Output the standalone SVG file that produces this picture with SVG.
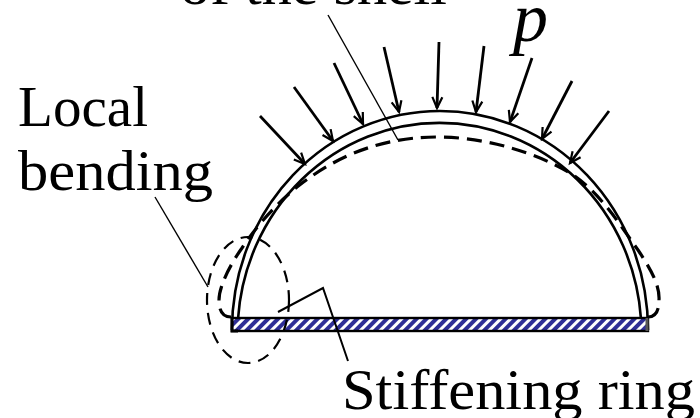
<svg xmlns="http://www.w3.org/2000/svg" width="700" height="418" viewBox="0 0 700 418">
<style>
.t{font-family:"Liberation Serif","Times New Roman",serif;font-size:56px;fill:#000}
.s{fill:none;stroke:#000;stroke-width:2.6}
.d{fill:none;stroke:#000;stroke-width:3.2;stroke-dasharray:15 8}
.l{fill:none;stroke:#000;stroke-width:1.4}
.a{fill:none;stroke:#000;stroke-width:2.8;marker-end:url(#h)}
</style>
<defs>
<marker id="h" markerUnits="userSpaceOnUse" markerWidth="20" markerHeight="20" refX="15" refY="8" orient="auto">
<path d="M4,3 L15,8 L4,13" fill="none" stroke="#000" stroke-width="2.2"/>
</marker>
<pattern id="hatch" patternUnits="userSpaceOnUse" width="7" height="7" patternTransform="rotate(45)">
<rect width="7" height="7" fill="#fff"/>
<rect width="4" height="7" fill="#2e2e96"/>
</pattern>
</defs>
<g id="labels">
<text class="t" x="180" y="4" textLength="267" lengthAdjust="spacingAndGlyphs">of the shell</text>
<text class="t" x="18" y="126" textLength="130" lengthAdjust="spacingAndGlyphs">Local</text>
<text class="t" x="18" y="190" textLength="195" lengthAdjust="spacingAndGlyphs">bending</text>
<text class="t" x="342" y="409" textLength="353" lengthAdjust="spacingAndGlyphs">Stiffening ring</text>
<text class="t" x="513" y="41" style="font-size:70px;font-style:italic">p</text>
</g>
<g id="shell">
<path class="s" d="M232,330 A208,219 0 0 1 648,330"/>
<path class="s" d="M238,319 A202,211 0 0 1 641,319"/>
</g>
<g id="ring">
<rect x="232" y="318" width="416" height="13" fill="url(#hatch)" stroke="#000" stroke-width="2.4"/>
<path d="M232,318 V331 H238" fill="none" stroke="#000" stroke-width="3"/>
<path d="M647,318 V331" fill="none" stroke="#555" stroke-width="3"/>
</g>
<g id="deformed">
<path class="d" d="M231,317 C222,317 219,310 219,300 C219,285 232,262 242,248 C255,228 275,205 297,187 C325,165 370,137 437,137 C490,137 540,155 570,173 C600,192 620,225 638,250 C650,268 660,285 659,300 C659,312 655,317 648,317"/>
</g>
<g id="local-zone">
<ellipse class="d" style="stroke-width:2.2;stroke-dasharray:12 8" cx="248" cy="300" rx="41" ry="63"/>
</g>
<g id="connectors">
<path class="l" d="M328,15 L398,140"/>
<path class="l" d="M155,197 L208,287"/>
<path class="l" style="stroke-width:2" d="M278,312 L323,288 L348,361"/>
<path class="a" d="M260,116 L305,164"/>
<path class="a" d="M294,87 L333,141"/>
<path class="a" d="M334,63 L363,124"/>
<path class="a" d="M384,47 L399,112"/>
<path class="a" d="M439,42 L437,108"/>
<path class="a" d="M484,46 L476,112"/>
<path class="a" d="M532,58 L510,122"/>
<path class="a" d="M572,81 L542,139"/>
<path class="a" d="M609,111 L570,163"/>
</g>
</svg>
